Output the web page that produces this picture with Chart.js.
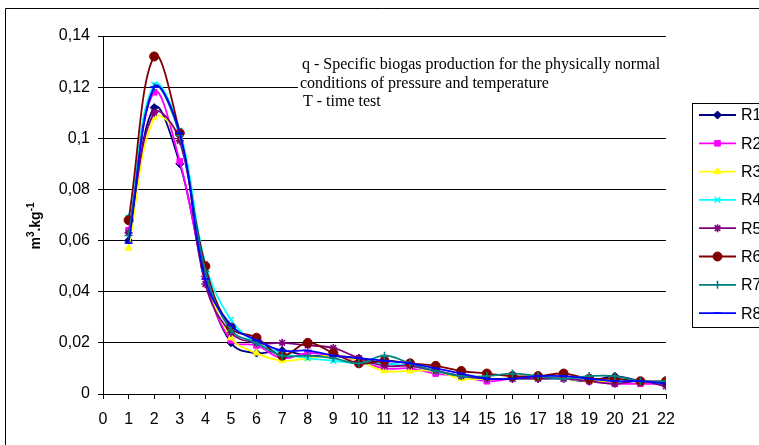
<!DOCTYPE html>
<html>
<head>
<meta charset="utf-8">
<script src="https://cdn.jsdelivr.net/npm/chart.js@4"></script>
<style>
    html, body { margin: 0; padding: 0; background: #fff; }
    #wrap { width: 759px; height: 445px; }
</style>
</head>
<body>
<div id="wrap"><canvas id="biogasChart" width="759" height="445"></canvas></div>
<script>
// Test days (x axis)
const days = [1, 2, 3, 4, 5, 6, 7, 8, 9, 10, 11, 12, 13, 14, 15, 16, 17, 18, 19, 20, 21, 22];

// q values, m3/kg, per reactor
const r1 = [0.060, 0.112, 0.090, 0.046, 0.020, 0.016, 0.017, 0.015, 0.015, 0.014, 0.012, 0.011, 0.009, 0.007, 0.006, 0.006, 0.006, 0.006, 0.005, 0.007, 0.005, 0.004];
const r2 = [0.064, 0.118, 0.091, 0.046, 0.021, 0.019, 0.014, 0.016, 0.015, 0.013, 0.010, 0.010, 0.008, 0.007, 0.005, 0.006, 0.006, 0.006, 0.005, 0.004, 0.004, 0.004];
const r3 = [0.057, 0.108, 0.100, 0.047, 0.022, 0.016, 0.013, 0.014, 0.015, 0.013, 0.009, 0.009, 0.009, 0.006, 0.006, 0.006, 0.006, 0.006, 0.005, 0.005, 0.005, 0.004];
const r4 = [0.069, 0.121, 0.103, 0.051, 0.029, 0.020, 0.016, 0.014, 0.013, 0.012, 0.012, 0.011, 0.009, 0.007, 0.006, 0.006, 0.006, 0.006, 0.006, 0.005, 0.005, 0.004];
const r5 = [0.063, 0.110, 0.099, 0.043, 0.024, 0.020, 0.020, 0.019, 0.018, 0.014, 0.011, 0.011, 0.009, 0.007, 0.006, 0.006, 0.006, 0.006, 0.005, 0.004, 0.005, 0.003];
const r6 = [0.068, 0.132, 0.102, 0.050, 0.026, 0.022, 0.015, 0.020, 0.016, 0.012, 0.013, 0.012, 0.011, 0.009, 0.008, 0.007, 0.007, 0.008, 0.006, 0.006, 0.005, 0.005];
const r7 = [0.062, 0.120, 0.101, 0.048, 0.025, 0.020, 0.015, 0.015, 0.014, 0.012, 0.015, 0.012, 0.009, 0.007, 0.007, 0.008, 0.007, 0.006, 0.007, 0.007, 0.005, 0.005];
const r8 = [0.059, 0.120, 0.102, 0.045, 0.027, 0.021, 0.017, 0.017, 0.015, 0.014, 0.013, 0.012, 0.010, 0.008, 0.006, 0.006, 0.007, 0.007, 0.006, 0.005, 0.005, 0.004];

const seriesNames = ["R1", "R2", "R3", "R4", "R5", "R6", "R7", "R8"];
const seriesValues = [r1, r2, r3, r4, r5, r6, r7, r8];

const colors = ["#000080", "#FF00FF", "#FFFF00", "#00FFFF", "#800080", "#800000", "#008080", "#0000FF"];
const markers = ["rectRot", "rect", "triangle", "crossRot", "star", "circle", "cross", "line"];

const noteLines = [
    "q - Specific biogas production for the physically normal",
    "conditions of pressure and temperature",
    "T - time test"
];

const sansFont = '"Liberation Sans", Arial, sans-serif';

const datasets = seriesValues.map((vals, i) => ({
    label: seriesNames[i],
    data: days.map((d, k) => ({ x: d, y: vals[k] })),
    borderColor: colors[i],
    backgroundColor: colors[i],
    borderWidth: 1.8,
    pointStyle: markers[i],
    pointRadius: markers[i] === "circle" ? 4.5 : 4,
    pointBorderWidth: ["crossRot", "cross", "star", "line"].includes(markers[i]) ? 1.6 : 1,
    tension: 0.4,
    order: 8 - i
}));

// background frame, axis title, note text and the boxed legend
const extras = {
    id: "extras",
    beforeDraw(chart) {
        const ctx = chart.ctx;
        ctx.save();
        ctx.fillStyle = "#fff";
        ctx.fillRect(0, 0, chart.width, chart.height);
        ctx.strokeStyle = "#000";
        ctx.lineWidth = 1;
        ctx.beginPath();
        ctx.moveTo(760, 8.5);
        ctx.lineTo(5.5, 8.5);
        ctx.lineTo(5.5, 446);
        ctx.stroke();
        ctx.restore();
    },
    afterDraw(chart) {
        const ctx = chart.ctx;
        ctx.save();

        // y axis title, m3.kg-1 with raised exponents
        ctx.save();
        ctx.translate(40, 226);
        ctx.rotate(-Math.PI / 2);
        ctx.fillStyle = "#000";
        ctx.textBaseline = "alphabetic";
        const parts = [["m", 14, 0], ["3", 10, -6], [".kg", 14, 0], ["-1", 10, -6]];
        let total = 0;
        parts.forEach(p => { ctx.font = "bold " + p[1] + "px " + sansFont; total += ctx.measureText(p[0]).width; });
        let px = -total / 2;
        parts.forEach(p => {
            ctx.font = "bold " + p[1] + "px " + sansFont;
            ctx.fillText(p[0], px, p[2]);
            px += ctx.measureText(p[0]).width;
        });
        ctx.restore();

        // note text box (white, hides the grid line behind it)
        ctx.fillStyle = "#fff";
        ctx.fillRect(298, 53, 369, 60);
        ctx.fillStyle = "#000";
        ctx.font = '16px "Liberation Serif", "Times New Roman", serif';
        ctx.textBaseline = "middle";
        ctx.fillText(noteLines[0], 302, 65);
        ctx.fillText(noteLines[1], 300, 84);
        ctx.fillText(noteLines[2], 303, 102);

        // legend box
        ctx.strokeStyle = "#000";
        ctx.lineWidth = 1;
        ctx.strokeRect(692.5, 103.5, 80, 224);
        ctx.font = "16px " + sansFont;
        chart.data.datasets.forEach((ds, i) => {
            const y = 115 + i * 28.3;
            ctx.strokeStyle = ds.borderColor;
            ctx.fillStyle = ds.backgroundColor;
            ctx.lineWidth = 1.8;
            ctx.beginPath();
            ctx.moveTo(699, y);
            ctx.lineTo(736, y);
            ctx.stroke();
            ctx.lineWidth = ds.pointBorderWidth;
            Chart.helpers.drawPoint(ctx, {
                pointStyle: ds.pointStyle,
                radius: ds.pointRadius,
                rotation: 0,
                borderWidth: ds.pointBorderWidth
            }, 717.5, y);
            ctx.fillStyle = "#000";
            ctx.fillText(ds.label, 741, y + 1);
        });
        ctx.restore();
    }
};

const ctx = document.getElementById("biogasChart").getContext("2d");
let biogasChart = new Chart(ctx, {
    type: "line",
    data: { datasets: datasets },
    options: {
        responsive: false,
        animation: false,
        layout: { padding: { left: 0, right: 93, top: 36, bottom: 0 } },
        plugins: {
            legend: { display: false },
            tooltip: { enabled: false }
        },
        scales: {
            x: {
                type: "linear",
                min: 0,
                max: 22,
                afterFit: (scale) => { scale.height = 51; },
                ticks: {
                    stepSize: 1,
                    color: "#000",
                    padding: 11,
                    maxRotation: 0,
                    autoSkip: false,
                    font: { family: sansFont, size: 16 }
                },
                grid: { drawOnChartArea: false, drawTicks: true, tickLength: 5, color: "#000" },
                border: { display: true, color: "#000" }
            },
            y: {
                min: 0,
                max: 0.14,
                afterFit: (scale) => { scale.width = 103; },
                ticks: {
                    stepSize: 0.02,
                    color: "#000",
                    padding: 8,
                    font: { family: sansFont, size: 16 },
                    callback: (v) => v === 0 ? "0" : String(+v.toFixed(2)).replace(".", ",")
                },
                grid: { drawOnChartArea: true, drawTicks: true, tickLength: 5, color: "#000" },
                border: { display: true, color: "#000" }
            }
        }
    },
    plugins: [extras]
});
</script>
</body>
</html>
